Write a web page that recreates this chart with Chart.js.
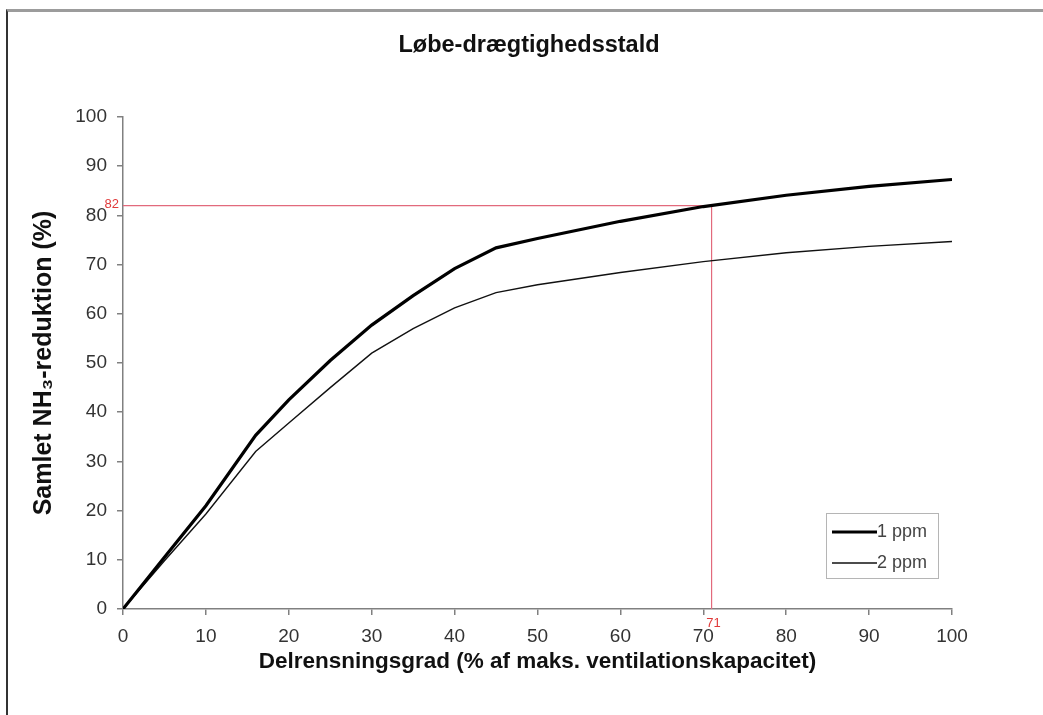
<!DOCTYPE html>
<html><head><meta charset="utf-8">
<script src="https://cdn.jsdelivr.net/npm/chart.js@4/dist/chart.umd.min.js"></script>
<style>
html,body{margin:0;padding:0;background:#fff;overflow:hidden;}
#wrap{position:absolute;left:0;top:0;width:1043px;height:715px;}
#frame{position:absolute;left:6px;top:9px;width:1043px;height:720px;border-top:3px solid #9c9c9c;border-left:2px solid #333;}
canvas{position:absolute;left:0;top:0;}
</style></head><body>
<div id="wrap"><div id="frame"></div><canvas id="c" width="1043" height="715"></canvas></div>
<script>
const chartTitle = 'Løbe-drægtighedsstald';
const xTitle = 'Delrensningsgrad (% af maks. ventilationskapacitet)';
const yTitle = 'Samlet NH₃-reduktion (%)';
const seriesLabels = ['1 ppm', '2 ppm'];
const xValues = [0, 5, 10, 16, 20, 25, 30, 35, 40, 45, 50, 60, 70, 80, 90, 100];
const ppm1 = [0, 10.5, 21, 35.3, 42.5, 50.5, 57.7, 63.7, 69.2, 73.4, 75.3, 78.8, 81.8, 84.1, 85.9, 87.3];
const ppm2 = [0, 9.8, 19.3, 32, 37.8, 45, 52, 57, 61.2, 64.3, 65.9, 68.4, 70.6, 72.4, 73.7, 74.7];
const refX = 71;
const refY = 82;
const xTicks = [0, 10, 20, 30, 40, 50, 60, 70, 80, 90, 100];
const yTicks = [0, 10, 20, 30, 40, 50, 60, 70, 80, 90, 100];

const FONT = '"Liberation Sans", Arial, sans-serif';
const pts = arr => xValues.map((x, i) => ({x, y: arr[i]}));

const overlay = {
  id: 'overlay',
  afterDraw(chart) {
    const {ctx, scales: {x, y}} = chart;
    ctx.save();
    // title
    ctx.fillStyle = '#111';
    ctx.font = 'bold 23.5px ' + FONT;
    ctx.textAlign = 'center';
    ctx.textBaseline = 'middle';
    ctx.fillText(chartTitle, 529, 46);
    // reference labels
    ctx.fillStyle = '#e03a3a';
    ctx.font = '13px ' + FONT;
    ctx.textAlign = 'right';
    ctx.textBaseline = 'middle';
    ctx.fillText(String(refY), x.left - 4, y.getPixelForValue(refY) - 1);
    ctx.textAlign = 'center';
    ctx.textBaseline = 'top';
    ctx.fillText(String(refX), x.getPixelForValue(refX) + 2, y.bottom + 8);
    // legend
    const ca = chart.chartArea;
    const bw = 112, bh = 65;
    const bx = ca.right - 14 - bw, by = ca.bottom - 31 - bh;
    ctx.fillStyle = '#fff';
    ctx.fillRect(bx, by, bw, bh);
    ctx.strokeStyle = '#b5b5b5';
    ctx.lineWidth = 1;
    ctx.strokeRect(bx + 0.5, by + 0.5, bw, bh);
    const sets = [chart.data.datasets[0], chart.data.datasets[1]];
    sets.forEach((ds, i) => {
      const ly = by + 19 + i * 31;
      ctx.strokeStyle = ds.borderColor;
      ctx.lineWidth = ds.borderWidth;
      ctx.beginPath();
      ctx.moveTo(bx + 6, ly);
      ctx.lineTo(bx + 51, ly);
      ctx.stroke();
      ctx.fillStyle = '#444';
      ctx.font = '18px ' + FONT;
      ctx.textAlign = 'left';
      ctx.textBaseline = 'middle';
      ctx.fillText(ds.label, bx + 51, ly);
    });
    ctx.restore();
  }
};

new Chart(document.getElementById('c'), {
  type: 'line',
  data: {
    datasets: [
      {label: seriesLabels[0], data: pts(ppm1), borderColor: '#000', borderWidth: 3.2, pointRadius: 0, tension: 0, order: 1},
      {label: seriesLabels[1], data: pts(ppm2), borderColor: '#111', borderWidth: 1.4, pointRadius: 0, tension: 0, order: 2},
      {label: 'ref', data: [{x: 0, y: refY}, {x: refX, y: refY}, {x: refX, y: 0}], borderColor: '#e26a7c', borderWidth: 1.2, pointRadius: 0, tension: 0, order: 3}
    ]
  },
  options: {
    responsive: false,
    devicePixelRatio: 1,
    animation: false,
    layout: {padding: {top: 117, right: 91, bottom: 0, left: 0}},
    plugins: {legend: {display: false}, tooltip: {enabled: false}, title: {display: false}},
    scales: {
      x: {
        type: 'linear', min: 0, max: 100,
        afterBuildTicks: s => { s.ticks = xTicks.map(v => ({value: v})); },
        afterFit: s => { s.height = 106; },
        ticks: {color: '#333', font: {family: FONT, size: 19}, padding: 10, maxRotation: 0},
        grid: {drawOnChartArea: false, drawTicks: true, tickLength: 6, color: '#808080', lineWidth: 1.5},
        border: {display: true, color: '#808080', width: 1.5},
        title: {display: true, text: xTitle, color: '#111', font: {family: FONT, size: 22.5, weight: 'bold'}, padding: {top: 0, bottom: 40}}
      },
      y: {
        type: 'linear', min: 0, max: 100,
        afterBuildTicks: s => { s.ticks = yTicks.map(v => ({value: v})); },
        afterFit: s => { s.width = 123; },
        ticks: {color: '#333', font: {family: FONT, size: 19}, padding: 10},
        grid: {drawOnChartArea: false, drawTicks: true, tickLength: 6, color: '#808080', lineWidth: 1.5},
        border: {display: true, color: '#808080', width: 1.5},
        title: {display: true, text: yTitle, color: '#111', font: {family: FONT, size: 25, weight: 'bold'}, padding: {top: 29, bottom: 0}}
      }
    }
  },
  plugins: [overlay]
});
</script>
</body></html>
